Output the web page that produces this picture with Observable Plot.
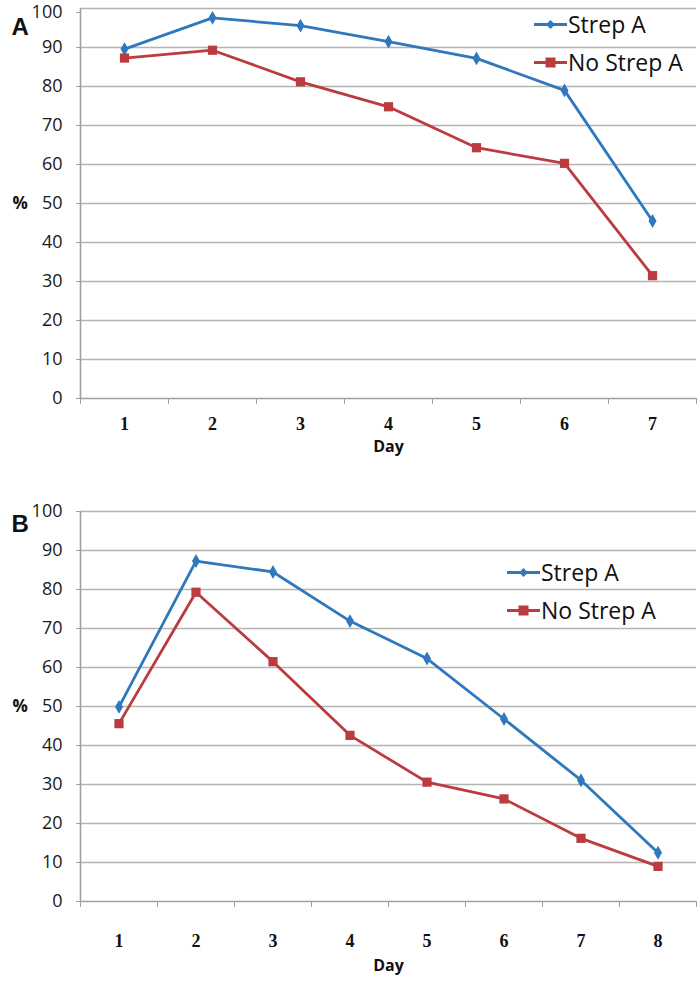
<!DOCTYPE html>
<html>
<head>
<meta charset="utf-8">
<script src="https://cdn.jsdelivr.net/npm/d3@7"></script>
<script src="https://cdn.jsdelivr.net/npm/@observablehq/plot@0.6"></script>
<style>
  html, body { margin: 0; padding: 0; background: #fff; }
  #wrap { position: relative; width: 700px; height: 984px; }
  .panel { position: absolute; left: 0; }
  .legend { position: absolute; font-family: "Open Sans", sans-serif; font-size: 23px; color: #111; }
  .legend div { display: flex; align-items: center; height: 38px; }
  .legend svg { margin-right: 1px; }
</style>
</head>
<body>
<div id="wrap"></div>
<script>
// ---- data ----
const seriesNames = ["Strep A", "No Strep A"];
const colors = ["#2f78bd", "#bb3b40"];
const yTicks = [0, 10, 20, 30, 40, 50, 60, 70, 80, 90, 100];

const daysA = [1, 2, 3, 4, 5, 6, 7];
const strepA_A = [89.6, 97.6, 95.6, 91.5, 87.2, 79.0, 45.5];
const noStrepA_A = [87.3, 89.3, 81.2, 74.8, 64.3, 60.3, 31.5];

const daysB = [1, 2, 3, 4, 5, 6, 7, 8];
const strepA_B = [49.9, 87.3, 84.5, 71.9, 62.3, 46.8, 31.1, 12.5];
const noStrepA_B = [45.6, 79.3, 61.5, 42.6, 30.6, 26.3, 16.2, 9.0];

const wrap = document.getElementById("wrap");
const tickFont = "'Open Sans', sans-serif";
const catFont = "'Liberation Serif', serif";

function rows(days, a, b) {
  const out = [];
  days.forEach((d, i) => out.push({day: d, value: a[i], series: seriesNames[0]}));
  days.forEach((d, i) => out.push({day: d, value: b[i], series: seriesNames[1]}));
  return out;
}

function panel({letter, days, a, b, top, height, marginTop, marginBottom, labelPad, dayDy, topDy}) {
  const data = rows(days, a, b);
  const bounds = d3.range(days.length + 1).map(i => i + 0.5);
  const n = days.length;
  const yStyle = {tickSize: 4, tickPadding: 14, stroke: "#a0a0a0", fontSize: 18, fontWeight: 500, fontFamily: tickFont, fill: "#1a1a1a", label: null};
  const chart = Plot.plot({
    width: 700,
    height,
    marginLeft: 80,
    marginRight: 4,
    marginTop,
    marginBottom,
    style: {background: "transparent", overflow: "visible"},
    x: {domain: [0.5, n + 0.5], axis: null},
    y: {domain: [0, 100], axis: null},
    color: {domain: seriesNames, range: colors},
    marks: [
      Plot.gridY(yTicks.slice(1), {stroke: "#b4b4b4", strokeOpacity: 1, strokeWidth: 1.6}),
      Plot.axisY(yTicks.slice(0, -1), yStyle),
      Plot.axisY(yTicks.slice(-1), {...yStyle, dy: topDy}),
      Plot.ruleY([0], {stroke: "#a0a0a0", strokeWidth: 1.6}),
      Plot.ruleX([0.5], {stroke: "#a0a0a0", strokeWidth: 1.6}),
      Plot.axisX(bounds, {tickSize: 6, tickFormat: () => "", stroke: "#a0a0a0", label: null}),
      Plot.axisX(days, {tickSize: 0, tickPadding: labelPad, fontSize: 18, fontWeight: "bold", fontFamily: catFont, fill: "#111", label: null}),
      Plot.line(data, {x: "day", y: "value", z: "series", stroke: "series", strokeWidth: 2.8}),
      Plot.dot(data.filter(d => d.series === seriesNames[0]), {x: "day", y: "value", symbol: "diamond", r: 4.2, fill: colors[0], stroke: "none"}),
      Plot.dot(data.filter(d => d.series === seriesNames[1]), {x: "day", y: "value", symbol: "square", r: 5.2, fill: colors[1], stroke: "none"}),
      Plot.text(["Day"], {frameAnchor: "bottom", dy: dayDy, fontSize: 16, fontWeight: "bold", fontFamily: "'Open Sans', sans-serif", fill: "#111"}),
      Plot.text(["%"], {frameAnchor: "left", dx: -68, fontSize: 17, fontWeight: "bold", fontFamily: "'Open Sans', sans-serif", fill: "#111"}),
      Plot.text([letter], {frameAnchor: "top-left", dx: -69, dy: letter === "A" ? 9 : 3, fontSize: 24, fontWeight: "bold", fontFamily: "'Liberation Sans', sans-serif", fill: "#111"})
    ]
  });
  chart.classList.add("panel");
  chart.style.top = top + "px";
  wrap.appendChild(chart);
}

function legend(left, top, width) {
  const box = document.createElement("div");
  box.className = "legend";
  box.style.left = left + "px";
  box.style.top = top + "px";
  const symbols = [
    `<polygon points="${width/2},3 ${width/2+4.5},7.5 ${width/2},12 ${width/2-4.5},7.5" fill="${colors[0]}"/>`,
    `<rect x="${width/2-5}" y="2.5" width="10" height="10" fill="${colors[1]}"/>`
  ];
  box.innerHTML = seriesNames.map((name, i) =>
    `<div><svg width="${width}" height="15"><line x1="0" x2="${width}" y1="7.5" y2="7.5" stroke="${colors[i]}" stroke-width="2.8"/>${symbols[i]}</svg><span>${name}</span></div>`
  ).join("");
  wrap.appendChild(box);
}

panel({letter: "A", days: daysA, a: strepA_A, b: noStrepA_A, top: 0, height: 470, marginTop: 8, marginBottom: 72, labelPad: 19, dayDy: 53, topDy: 4});
panel({letter: "B", days: daysB, a: strepA_B, b: noStrepA_B, top: 484, height: 500, marginTop: 27, marginBottom: 83, labelPad: 33, dayDy: 69, topDy: 0});
legend(534, 5, 33);
legend(507, 553, 33);
</script>
</body>
</html>
